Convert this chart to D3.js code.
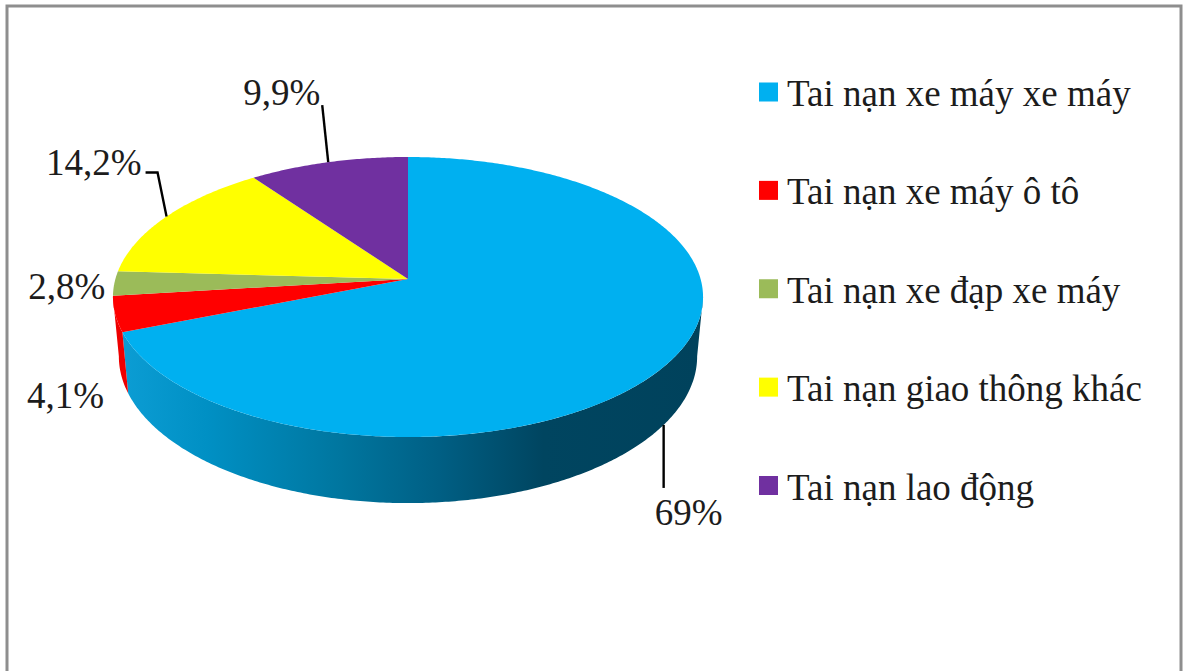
<!DOCTYPE html>
<html>
<head>
<meta charset="utf-8">
<style>
  html, body { margin: 0; padding: 0; background: #fff; }
  svg { display: block; }
  text { font-family: "Liberation Serif", "Times New Roman", serif; fill: #1c1c1c; }
</style>
<script src="https://cdn.jsdelivr.net/npm/d3@7/dist/d3.min.js"></script>
</head>
<body>
<svg id="chart" width="1183" height="671"></svg>
<script>
// Accident causes and their shares, in percent
const categories = ["Tai nạn xe máy xe máy", "Tai nạn xe máy ô tô", "Tai nạn xe đạp xe máy", "Tai nạn giao thông khác", "Tai nạn lao động"];
const shares = [69, 4.1, 2.8, 14.2, 9.9];
const shareLabels = ["69%", "4,1%", "2,8%", "14,2%", "9,9%"];
const topColors = ["#00b0f0", "#ff0000", "#9bbb59", "#ffff00", "#7030a0"];

const svg = d3.select("#chart");

// Pie geometry: a tilted disc seen in perspective, apex off the ellipse centre
const apex = { x: 408, y: 279 };
const persp = -0.1286;
const radiusX = 292.6, radiusY = 137.7;
const rimDrop = 58.5, rimScaleX = 0.98, rimScaleY = 1.048;

function project(angle, level) {
  const u = Math.sin(angle), v = -Math.cos(angle);
  const d = 1 + persp * v;
  const x = radiusX * u / d, y = radiusY * v / d;
  return level === "bottom"
    ? [apex.x + x * rimScaleX, apex.y + rimDrop + y * rimScaleY]
    : [apex.x + x, apex.y + y];
}

const arcs = d3.pie().sort(null).value(d => d)(shares);
const line = d3.line();
const arcPoints = (a0, a1, level) => {
  const n = Math.max(2, Math.ceil(Math.abs(a1 - a0) / 0.01));
  return d3.range(n + 1).map(i => project(a0 + (a1 - a0) * i / n, level));
};

// Page frame, running off the bottom edge
svg.append("rect").attr("x", 7).attr("y", 6).attr("width", 1174).attr("height", 800)
  .attr("fill", "#fff").attr("stroke", "#8e8e8e").attr("stroke-width", 3);

// Shading across the front wall of the large slice
const defs = svg.append("defs");
const grad = defs.append("linearGradient").attr("id", "wallShade")
  .attr("gradientUnits", "userSpaceOnUse")
  .attr("x1", 120).attr("x2", 700).attr("y1", 0).attr("y2", 0);
[[0, "#0c9dd4"], [0.15, "#0090c4"], [0.38, "#00769f"], [0.55, "#005f84"], [0.73, "#004560"], [1, "#00425c"]]
  .forEach(([o, c]) => grad.append("stop").attr("offset", o).attr("stop-color", c));

// Visible walls: clipped to the silhouette extremes of the disc
const sideStart = Math.asin(Math.abs(persp)) + Math.PI / 2;
const sideEnd = 3 * Math.PI / 2 - Math.asin(Math.abs(persp));
const walls = svg.append("g");
arcs.forEach((a, i) => {
  const a0 = Math.max(a.startAngle, sideStart), a1 = Math.min(a.endAngle, sideEnd);
  if (a1 <= a0) return;
  const pts = arcPoints(a0, a1, "top").concat(arcPoints(a1, a0, "bottom"));
  walls.append("path").attr("d", line(pts) + "Z")
    .attr("fill", i === 0 ? "url(#wallShade)" : "#ee0000");
});

// Top faces
const faces = svg.append("g");
arcs.forEach((a, i) => {
  const pts = [[apex.x, apex.y]].concat(arcPoints(a.startAngle, a.endAngle, "top"));
  faces.append("path").attr("d", line(pts) + "Z").attr("fill", topColors[i]);
});

// Callouts: anchored at each slice's mid-angle, offsets lead to the label
const callouts = [
  { level: "bottom", bends: [[0, 63]], label: [59, 100] },
  { level: "top", bends: [], label: [-11, 94] },
  { level: "top", bends: [], label: [-9, 16] },
  { level: "top", bends: [[-9, -44], [-21, -44]], label: [-25, -42] },
  { level: "top", bends: [[-6, -57]], label: [-8, -57] }
];
const labelLayer = svg.append("g");
arcs.forEach((a, i) => {
  const c = callouts[i];
  const mid = (a.startAngle + a.endAngle) / 2;
  const p = project(mid, c.level);
  if (c.bends.length) {
    labelLayer.append("path")
      .attr("d", line([p].concat(c.bends.map(b => [p[0] + b[0], p[1] + b[1]]))))
      .attr("fill", "none").attr("stroke", "#000").attr("stroke-width", 2.4);
  }
  labelLayer.append("text")
    .attr("x", p[0] + c.label[0]).attr("y", p[1] + c.label[1])
    .attr("text-anchor", "end").attr("font-size", 37)
    .text(shareLabels[i]);
});

// Legend
const legendY = d3.scalePoint().domain(categories).range([92, 485.5]);
const legend = svg.append("g").selectAll("g").data(categories).join("g")
  .attr("transform", d => `translate(759,${legendY(d)})`);
legend.append("rect").attr("x", 0).attr("y", -9.5).attr("width", 19).attr("height", 19)
  .attr("fill", (d, i) => topColors[i]);
legend.append("text").attr("x", 28).attr("y", 14).attr("font-size", 37).text(d => d);
</script>
</body>
</html>
